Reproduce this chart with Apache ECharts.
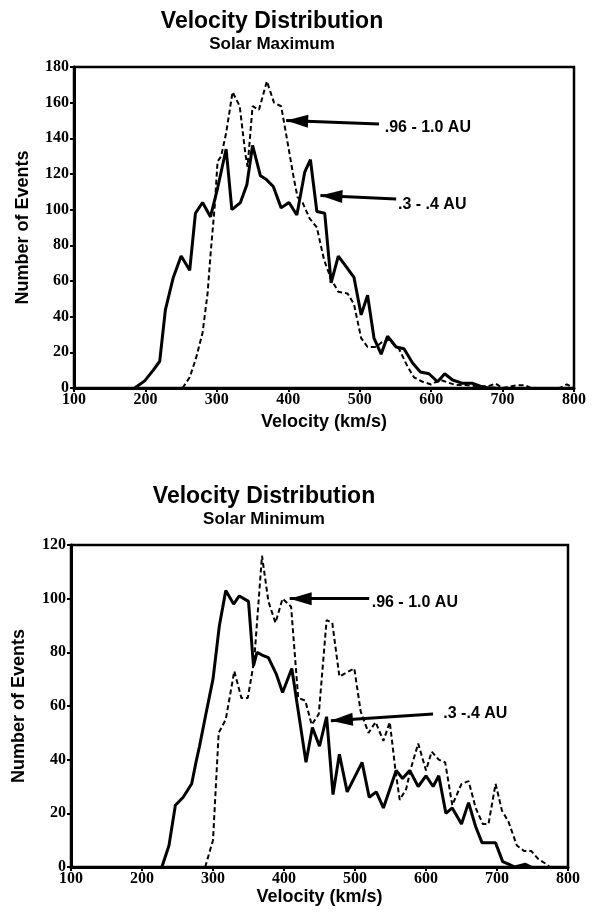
<!DOCTYPE html>
<html>
<head>
<meta charset="utf-8">
<style>
  html, body { margin: 0; padding: 0; background: #fff; }
  #chart { width: 595px; height: 912px; }
</style>
<script src="https://cdn.jsdelivr.net/npm/echarts@6/dist/echarts.min.js"></script>
</head>
<body>
<div id="chart"></div>
<script>
// ---- Data ----
var titles = ['Velocity Distribution', 'Velocity Distribution'];
var subtitles = ['Solar Maximum', 'Solar Minimum'];
var xAxisName = 'Velocity (km/s)';
var yAxisName = 'Number of Events';
var xRange = [100, 800, 100];      // min, max, interval
var yRangeMax = [0, 180, 20];
var yRangeMin = [0, 120, 20];

// Solar maximum, .3 - .4 AU (solid)
var maxNear = [[185,0],[199,4],[211,10],[220,15],[228,44],[239,62],[250,74],[262,66],[270,98],[280,104],[291,96],[301,112],[313,134],[321,100],[333,104],[342,114],[350,136],[361,119],[369,117],[379,113],[390,101],[401,104],[412,97],[423,121],[431,128],[440,99],[451,98],[460,59],[470,74],[481,68],[492,62],[502,41],[511,52],[520,28],[530,19],[539,29],[551,23],[562,22],[574,14],[585,9],[597,8],[609,3.5],[619,8],[630,4.5],[644,2.6],[658,2.6],[669,1],[680,0],[690,0]];
// Solar maximum, .96 - 1.0 AU (dashed)
var maxFar = [[252,0],[262,6],[271,17],[280,31],[287,53],[291,74],[297,102],[301,127],[306,130],[313,143],[322,166],[332,158],[340,131],[343,124],[350,158],[359,156],[370,172],[380,160],[390,158],[398,140],[408,117],[413,107],[420,104],[430,95],[440,90],[450,72],[460,61],[470,54],[483,53],[492,47],[502,28],[511,23],[523,23],[532,26],[541,27],[555,22],[567,12],[576,6],[588,3.5],[600,2],[607,3.5],[613,4.5],[634,1.7],[648,1.7],[665,1],[680,1],[690,2.5],[700,0],[720,1.5],[732,1.5],[740,0],[780,0],[790,2],[800,0]];
// Solar minimum, .3 - .4 AU (solid)
var minNear = [[228,0],[238,8],[247,23],[258,26],[270,31],[276,39],[281,45],[290,57],[300,70],[309,90],[318,103],[329,98],[337,101],[350,99],[357,75],[362,80],[369,79],[378,78],[389,72],[398,65],[411,74],[431,39],[440,52],[450,45],[460,56],[469,27],[478,42],[489,28],[510,39],[520,26],[530,28],[540,22],[558,36],[567,33],[577,36],[589,30],[600,34],[610,30],[618,34],[628,20],[637,22],[650,16],[660,24],[670,15],[679,9],[698,9],[708,2],[717,1],[725,0],[740,1],[748,0]];
// Solar minimum, .96 - 1.0 AU (dashed)
var minFar = [[289,0],[300,10],[308,50],[318,55],[330,73],[340,63],[349,63],[358,77],[369,116],[378,99],[388,91],[398,100],[410,97],[420,63],[430,62],[439,53],[449,57],[460,92],[468,91],[478,71],[499,74],[508,58],[519,50],[529,54],[540,47],[549,54],[557,36],[563,25],[572,29],[579,37],[589,46],[600,36],[608,43],[618,40],[627,39],[637,23],[650,31],[660,32],[670,22],[680,16],[688,16],[698,31],[707,21],[716,17],[728,8],[738,6],[748,6],[758,3],[770,1],[774,0]];

// Annotations: arrow tip, arrow tail, label anchor (left/middle), label text — data coordinates
var annMax = [
  [[397,150],[527,148],[535,146],'.96 - 1.0 AU'],
  [[445,108],[551,106],[553.6,102.6],'.3 - .4 AU']
];
var annMin = [
  [[408,100],[520,100],[523.5,98.4],'.96 - 1.0 AU'],
  [[466,54.5],[610,57],[624.4,57],'.3 -.4 AU']
];

// ---- Build chart ----
var SANS = 'Liberation Sans, Arial, sans-serif';
var SERIF = 'Liberation Serif, Times New Roman, serif';

function markLines(ann) {
  return {
    silent: true, animation: false,
    symbol: ['none', 'none'],
    lineStyle: { color: '#000', width: 3, type: 'solid' },
    label: { show: false },
    data: ann.map(function (a) { return [{ coord: a[0] }, { coord: a[1] }]; })
  };
}
function markPoints(ann) {
  return {
    silent: true, animation: false,
    symbol: 'circle', symbolSize: 0,
    label: {
      show: true, position: 'right', distance: 0,
      color: '#000', fontFamily: SANS, fontWeight: 'bold', fontSize: 16,
      formatter: function (p) { return p.name; }
    },
    data: ann.map(function (a) { return { coord: a[2], name: a[3] }; })
  };
}

function xAxis(gridIndex, nameGap) {
  return {
    type: 'value', gridIndex: gridIndex,
    min: xRange[0], max: xRange[1], interval: xRange[2],
    name: xAxisName, nameLocation: 'middle', nameGap: nameGap,
    nameTextStyle: { color: '#000', fontFamily: SANS, fontWeight: 'bold', fontSize: 18 },
    axisLine: { show: true, lineStyle: { color: '#000', width: 3 } },
    axisTick: { show: true, length: 4, lineStyle: { color: '#000', width: 2 } },
    axisLabel: { color: '#000', fontFamily: SERIF, fontWeight: 'bold', fontSize: 16, margin: 4 },
    splitLine: { show: false }
  };
}
function yAxis(gridIndex, range, nameGap) {
  return {
    type: 'value', gridIndex: gridIndex,
    min: range[0], max: range[1], interval: range[2],
    name: yAxisName, nameLocation: 'middle', nameGap: nameGap, nameRotate: 90,
    nameTextStyle: { color: '#000', fontFamily: SANS, fontWeight: 'bold', fontSize: 18 },
    axisLine: { show: true, lineStyle: { color: '#000', width: 3 } },
    axisTick: { show: true, length: 4, lineStyle: { color: '#000', width: 2 } },
    axisLabel: { color: '#000', fontFamily: SERIF, fontWeight: 'bold', fontSize: 16, margin: 5 },
    splitLine: { show: false }
  };
}

var solid = { color: '#000', width: 3, type: 'solid' };
var dashed = { color: '#000', width: 2, type: [5, 3] };

var option = {
  animation: false,
  backgroundColor: '#fff',
  title: [
    { text: titles[0], subtext: subtitles[0], left: 272, top: 10, textAlign: 'center', itemGap: 3, padding: 0,
      textStyle: { color: '#000', fontFamily: SANS, fontWeight: 'bold', fontSize: 23 },
      subtextStyle: { color: '#000', fontFamily: SANS, fontWeight: 'bold', fontSize: 17 } },
    { text: titles[1], subtext: subtitles[1], left: 264, top: 485, textAlign: 'center', itemGap: 3, padding: 0,
      textStyle: { color: '#000', fontFamily: SANS, fontWeight: 'bold', fontSize: 23 },
      subtextStyle: { color: '#000', fontFamily: SANS, fontWeight: 'bold', fontSize: 17 } }
  ],
  grid: [
    { left: 74, top: 67, width: 500, height: 321, show: true, borderColor: '#000', borderWidth: 2.5, backgroundColor: 'transparent' },
    { left: 71, top: 545, width: 497, height: 322, show: true, borderColor: '#000', borderWidth: 2.5, backgroundColor: 'transparent' }
  ],
  xAxis: [xAxis(0, 25), xAxis(1, 21)],
  yAxis: [yAxis(0, yRangeMax, 42), yAxis(1, yRangeMin, 43)],
  series: [
    { type: 'line', xAxisIndex: 0, yAxisIndex: 0, data: maxNear, showSymbol: false, symbol: 'none', lineStyle: solid, markLine: markLines(annMax), markPoint: markPoints(annMax) },
    { type: 'line', xAxisIndex: 0, yAxisIndex: 0, data: maxFar, showSymbol: false, symbol: 'none', lineStyle: dashed },
    { type: 'line', xAxisIndex: 1, yAxisIndex: 1, data: minNear, showSymbol: false, symbol: 'none', lineStyle: solid, markLine: markLines(annMin), markPoint: markPoints(annMin) },
    { type: 'line', xAxisIndex: 1, yAxisIndex: 1, data: minFar, showSymbol: false, symbol: 'none', lineStyle: dashed }
  ]
};

var chart = echarts.init(document.getElementById('chart'), null, { renderer: 'canvas', width: 595, height: 912 });
chart.setOption(option);

// Arrowheads at the tips, placed through the grids' coordinate systems
var HEAD_LEN = 22, HEAD_HALF = 6.5;
var heads = [];
[[annMax, 0], [annMin, 1]].forEach(function (pair) {
  pair[0].forEach(function (a) {
    var tip = chart.convertToPixel({ gridIndex: pair[1] }, a[0]);
    var tail = chart.convertToPixel({ gridIndex: pair[1] }, a[1]);
    var dx = tail[0] - tip[0], dy = tail[1] - tip[1];
    var len = Math.sqrt(dx * dx + dy * dy);
    var ux = dx / len, uy = dy / len;
    var bx = tip[0] + ux * HEAD_LEN, by = tip[1] + uy * HEAD_LEN;
    heads.push({
      type: 'polygon', silent: true, z: 100,
      shape: { points: [[tip[0], tip[1]], [bx - uy * HEAD_HALF, by + ux * HEAD_HALF], [bx + uy * HEAD_HALF, by - ux * HEAD_HALF]] },
      style: { fill: '#000' }
    });
  });
});
chart.setOption({ graphic: heads });
</script>
</body>
</html>
